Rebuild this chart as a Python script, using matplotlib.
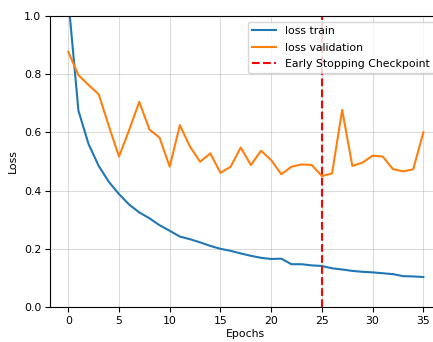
import matplotlib
matplotlib.use("Agg")
import matplotlib.pyplot as plt
import numpy as np

epochs = list(range(36))
loss_train = [1.06, 0.675, 0.56, 0.485, 0.43, 0.388, 0.352, 0.325, 0.305, 0.281, 0.262,
              0.242, 0.233, 0.222, 0.21, 0.2, 0.193, 0.184, 0.176, 0.169, 0.165, 0.166,
              0.147, 0.147, 0.143, 0.141, 0.133, 0.129, 0.124, 0.121, 0.119, 0.116,
              0.113, 0.106, 0.105, 0.103]
loss_val = [0.877, 0.797, 0.763, 0.731, 0.622, 0.517, 0.608, 0.705, 0.61, 0.582, 0.482,
            0.625, 0.551, 0.499, 0.528, 0.461, 0.482, 0.548, 0.488, 0.537, 0.505, 0.456,
            0.482, 0.49, 0.488, 0.45, 0.459, 0.677, 0.485, 0.496, 0.52, 0.517, 0.474,
            0.466, 0.473, 0.6]
early_stop = 25

fig = plt.figure(figsize=(4.33, 3.42), dpi=100)
W, H = 433, 342
ax = fig.add_axes([50 / W, (H - 307) / H, 391.6 / W, 291 / H])
ax.plot(epochs, loss_train, color="#1f77b4", lw=1.5, label="loss train")
ax.plot(epochs, loss_val, color="#ff7f0e", lw=1.5, label="loss validation")
ax.axvline(early_stop, color="red", ls="--", lw=1.5, label="Early Stopping Checkpoint")
ax.set_ylim(0, 1.0)
ax.set_xlim(-1.8, 36.8)
ax.set_xticks([0, 5, 10, 15, 20, 25, 30, 35])
ax.set_yticks([0.0, 0.2, 0.4, 0.6, 0.8, 1.0])
ax.grid(True, color="#b0b0b0", alpha=0.45, lw=0.8)
ax.tick_params(labelsize=7.8, length=3.5, pad=2.8)
ax.set_xlabel("Epochs", fontsize=7.8, labelpad=2.5)
ax.set_ylabel("Loss", fontsize=7.8, labelpad=4)
x_right = (434 - 50) / 391.6
y_top = (307 - 21.7) / 291
ax.legend(loc="upper right", bbox_to_anchor=(x_right, y_top), borderaxespad=0,
          fontsize=7.8, handlelength=2.2, labelspacing=0.6)
fig.savefig("out.png", dpi=100)
